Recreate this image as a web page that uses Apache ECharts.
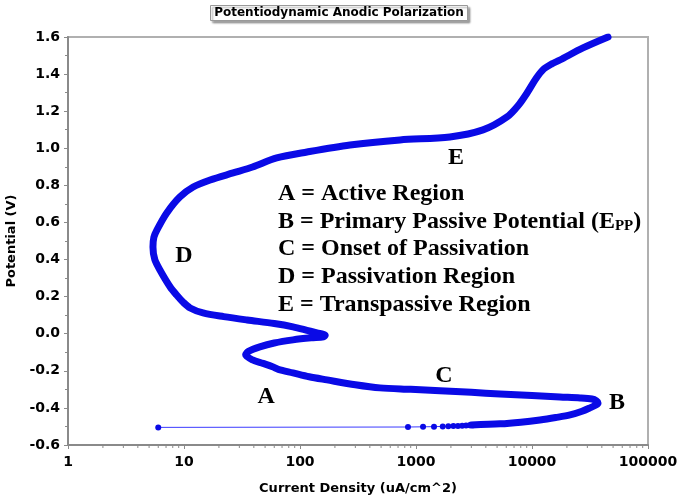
<!DOCTYPE html>
<html>
<head>
<meta charset="utf-8">
<script src="https://cdn.jsdelivr.net/npm/echarts@6/dist/echarts.min.js"></script>
<style>
  html, body { margin: 0; padding: 0; background: #fff; }
  #chart { width: 678px; height: 497px; }
</style>
</head>
<body>
<div id="chart"></div>
<script>
// scan start: lone point at -0.5 V, then sparse steps before the curve thickens
const startCurrent = [6, 853, 1150, 1430, 1700, 1900, 2100, 2300, 2500, 2700, 2900, 3100];
const startPotential = [-0.505, -0.503, -0.502, -0.501, -0.500, -0.499, -0.498, -0.497, -0.496, -0.495, -0.494, -0.493];

// main (dense) part of the polarization curve, in scan order
const curveCurrent = [
  3000, 5300, 8000, 11700, 16000, 21300, 27000, 31600, 35500, 37100,
  36000, 32900, 26000, 17400, 10000, 5300, 3000, 1610, 900, 489,
  300, 171, 120, 87, 65, 58, 48, 39, 34, 36,
  45, 60, 87, 125, 160, 165, 140, 120, 87, 60,
  35, 22, 14.6, 11.3, 9.8, 8.6, 7.6, 6.2, 5.6, 5.4,
  5.5, 5.85, 7.1, 9.2, 12, 16.8, 26.5, 39, 63, 115,
  270, 728, 1960, 3780, 6090, 7700, 9060, 10800, 12500, 14800, 17400, 27500, 45200
];
const curvePotential = [
  -0.492, -0.486, -0.477, -0.465, -0.452, -0.438, -0.418, -0.400, -0.385, -0.373,
  -0.362, -0.352, -0.346, -0.341, -0.333, -0.325, -0.316, -0.308, -0.300, -0.292,
  -0.275, -0.249, -0.232, -0.211, -0.192, -0.178, -0.160, -0.141, -0.114, -0.095,
  -0.071, -0.050, -0.033, -0.022, -0.017, -0.008, 0.005, 0.015, 0.037, 0.055,
  0.074, 0.092, 0.112, 0.139, 0.171, 0.210, 0.252, 0.344, 0.400, 0.468,
  0.520, 0.560, 0.651, 0.737, 0.791, 0.829, 0.867, 0.899, 0.948, 0.980,
  1.018, 1.045, 1.061, 1.099, 1.169, 1.235, 1.298, 1.375, 1.425, 1.455, 1.476, 1.541, 1.600
];

// region letters placed on the plot
const letterNames = ['A', 'B', 'C', 'D', 'E'];
const letterCurrent = [51, 54000, 1740, 10, 2210];
const letterPotential = [-0.341, -0.373, -0.227, 0.419, 0.948];

// key text
const keyLines = [
  'A = Active Region',
  'B = Primary Passive Potential (E{sub|PP})',
  'C = Onset of Passivation',
  'D = Passivation Region',
  'E = Transpassive Region'
];

const xMinorTicks = [];
[1, 10, 100, 1000, 10000].forEach(function (d) {
  for (let k = 2; k <= 9; k++) xMinorTicks.push(d * k);
});

const blue = '#0a0ae6';
const sans = 'DejaVu Sans';
const serif = 'Liberation Serif';

const chart = echarts.init(document.getElementById('chart'));

const zip = (a, b) => a.map((v, i) => [v, b[i]]);

chart.setOption({
  animation: false,
  title: {
    text: 'Potentiodynamic Anodic Polarization',
    left: 'center',
    top: 5,
    padding: [2, 4, 2, 4],
    borderColor: '#999',
    borderWidth: 1,
    shadowColor: 'rgba(0,0,0,0.35)',
    shadowOffsetX: 2,
    shadowOffsetY: 2,
    shadowBlur: 2,
    backgroundColor: '#fff',
    textStyle: { fontFamily: sans, fontSize: 12, fontWeight: 'bold', color: '#000' }
  },
  grid: {
    left: 68, right: 30, top: 37, bottom: 52,
    outerBoundsMode: 'none',
    show: true, borderColor: '#b0b0b0', borderWidth: 2, backgroundColor: '#fff'
  },
  xAxis: {
    type: 'log',
    logBase: 10,
    min: 1,
    max: 100000,
    name: 'Current Density (uA/cm^2)',
    nameLocation: 'middle',
    nameGap: 37,
    nameTextStyle: { fontFamily: sans, fontSize: 13, fontWeight: 'bold', color: '#000' },
    axisLine: { onZero: false, lineStyle: { color: '#8a8a8a', width: 2 } },
    axisTick: { show: true, length: 4, lineStyle: { color: '#8a8a8a' } },
    splitLine: { show: false },
    axisLabel: {
      margin: 10,
      fontFamily: sans, fontSize: 14, fontWeight: 'bold', color: '#000',
      formatter: v => String(Math.round(v))
    }
  },
  yAxis: {
    type: 'value',
    min: -0.6,
    max: 1.6,
    interval: 0.2,
    name: 'Potential (V)',
    nameLocation: 'middle',
    nameGap: 36,
    nameTextStyle: { fontFamily: sans, fontSize: 13, fontWeight: 'bold', color: '#000' },
    axisLine: { show: true, onZero: false, lineStyle: { color: '#8a8a8a', width: 2 } },
    axisTick: { show: true, length: 4, lineStyle: { color: '#8a8a8a' } },
    minorTick: { show: true, splitNumber: 2, length: 3, lineStyle: { color: '#8a8a8a' } },
    splitLine: { show: false },
    axisLabel: {
      margin: 8,
      fontFamily: sans, fontSize: 14, fontWeight: 'bold', color: '#000',
      formatter: v => (Math.abs(v) < 1e-9 ? 0 : v).toFixed(1)
    }
  },
  graphic: [{
    type: 'group',
    left: 278,
    top: 182,
    children: keyLines.map((t, i) => ({
      type: 'text',
      x: 0,
      y: i * 27.6,
      style: {
        text: t,
        font: 'bold 24px "Liberation Serif"',
        fill: '#000',
        rich: {
          sub: { font: 'bold 15px "Liberation Serif"', fill: '#000', padding: [9, 0, 0, 0] }
        }
      }
    }))
  }],
  series: [
    {
      // minor log ticks along the bottom axis
      type: 'custom',
      silent: true,
      z: 1,
      data: xMinorTicks.map(v => [v, -0.6]),
      renderItem: function (params, api) {
        const p = api.coord([api.value(0), api.value(1)]);
        return {
          type: 'line',
          shape: { x1: p[0], y1: p[1], x2: p[0], y2: p[1] + 3 },
          style: { stroke: '#8a8a8a', lineWidth: 1 }
        };
      }
    },
    {
      type: 'line',
      data: zip(startCurrent, startPotential),
      symbol: 'circle',
      symbolSize: 6,
      showAllSymbol: true,
      lineStyle: { color: '#3b3bff', width: 1 },
      itemStyle: { color: blue },
      z: 3
    },
    {
      type: 'line',
      data: zip(curveCurrent, curvePotential),
      showSymbol: false,
      smooth: 0.3,
      lineStyle: { color: blue, width: 7, cap: 'round', join: 'round' },
      z: 4
    },
    {
      type: 'scatter',
      data: letterNames.map((n, i) => ({ name: n, value: [letterCurrent[i], letterPotential[i]] })),
      symbolSize: 1,
      itemStyle: { opacity: 0 },
      label: {
        show: true,
        position: 'inside',
        formatter: '{b}',
        fontFamily: serif,
        fontSize: 24,
        fontWeight: 'bold',
        color: '#000',
        opacity: 1
      },
      z: 5
    }
  ]
});
</script>
</body>
</html>
